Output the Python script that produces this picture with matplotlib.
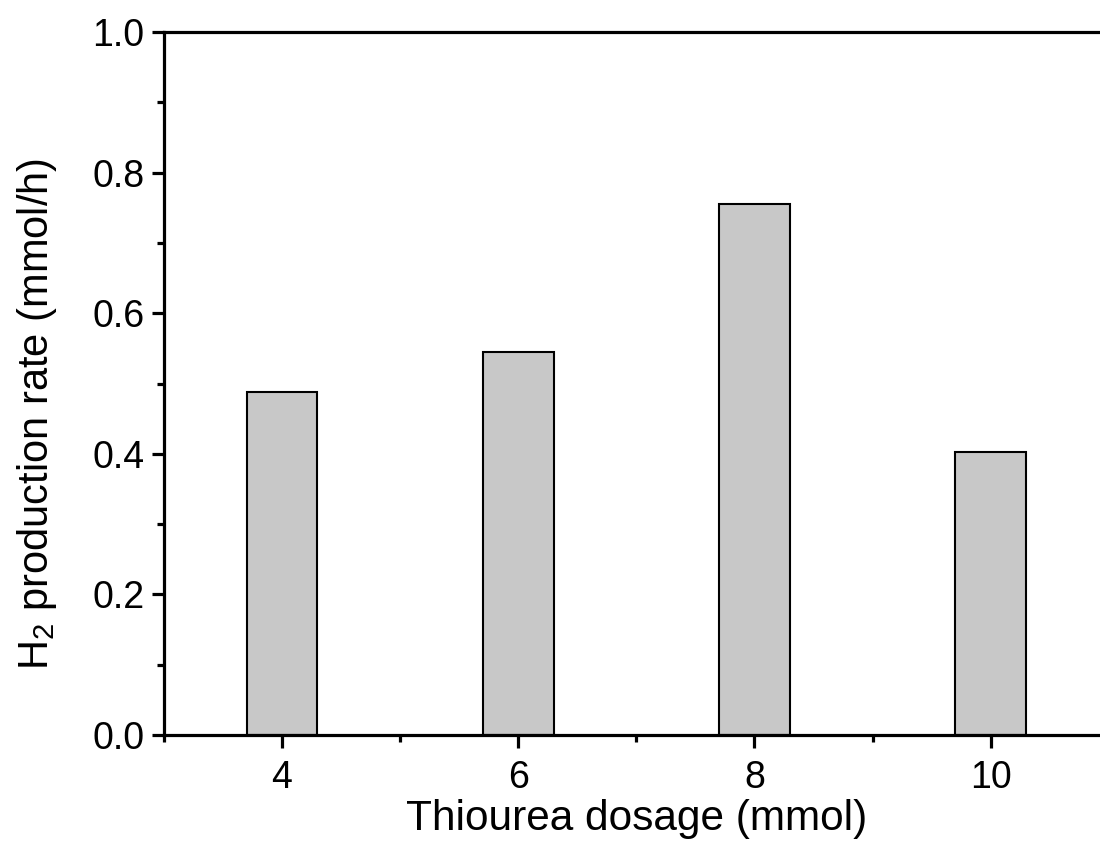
"""Thiourea dosage vs H2 production rate bar chart."""

import matplotlib
matplotlib.use('Agg')
from matplotlib import pyplot as plt
from matplotlib.ticker import MultipleLocator

dosage = [4, 6, 8, 10]
rate = [0.488, 0.545, 0.755, 0.402]

plt.rcParams['font.family'] = ['Liberation Sans', 'DejaVu Sans']
plt.rcParams['mathtext.fontset'] = 'custom'
plt.rcParams['mathtext.rm'] = 'Liberation Sans'
plt.rcParams['mathtext.it'] = 'Liberation Sans'

fig = plt.figure(figsize=(11, 8.43), dpi=100)
# right end of the axes falls outside the picture, as in the source
ax = fig.add_axes([0.149, 0.128, 0.859, 0.834])

ax.bar(dosage, rate, width=0.6, color='#c8c8c8', edgecolor='black', linewidth=1.5)

ax.set_xlim(3, 11)
ax.set_ylim(0, 1.0)
ax.xaxis.set_major_locator(MultipleLocator(2))
ax.xaxis.set_minor_locator(MultipleLocator(1))
ax.yaxis.set_major_locator(MultipleLocator(0.2))
ax.yaxis.set_minor_locator(MultipleLocator(0.1))
ax.yaxis.set_major_formatter(lambda v, pos: f'{v:.1f}')

for spine in ax.spines.values():
    spine.set_linewidth(2.3)
ax.tick_params(which='major', direction='out', length=9, width=2.3, labelsize=27, pad=5)
ax.tick_params(which='minor', direction='out', length=5, width=2.3)
ax.tick_params(axis='x', which='major', pad=9)

ax.set_xlabel('Thiourea dosage (mmol)', fontsize=30.5, labelpad=2)
ax.set_ylabel(r'H$_\mathregular{2}$ production rate (mmol/h)', fontsize=30, labelpad=24)
ax.yaxis.label.set_y(0.457)

fig.savefig('out.png', dpi=100)
